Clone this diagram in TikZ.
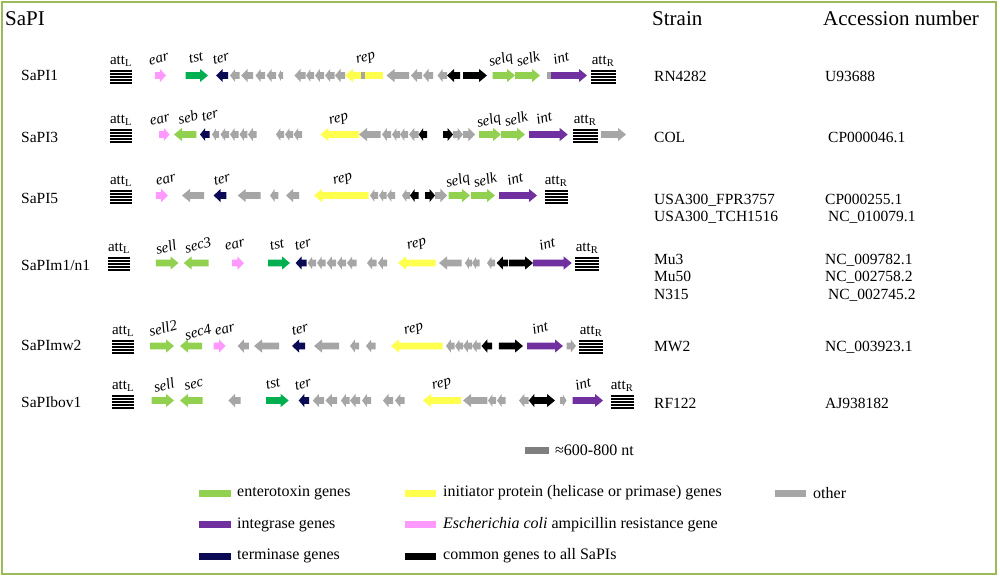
\documentclass[tikz,border=0pt]{standalone}
\usepackage{fontspec}
\setmainfont{Liberation Serif}
\definecolor{cgray}{HTML}{A6A6A6}
\definecolor{cdark}{HTML}{7F7F7F}
\definecolor{clg}{HTML}{92D050}
\definecolor{ctst}{HTML}{00B050}
\definecolor{cnavy}{HTML}{0A0A55}
\definecolor{cyel}{HTML}{FFFF4D}
\definecolor{cpink}{HTML}{FF99FF}
\definecolor{cpur}{HTML}{7030A0}
\definecolor{cframe}{HTML}{9BBB59}
\newcommand{\gR}[4]{%
  \pgfmathsetmacro{\ghl}{min(8,0.55*(#2-#1))}%
  \pgfmathsetmacro{\ghh}{min(6.6,3.5+0.35*(#2-#1))}%
  \pgfmathsetmacro{\ghx}{#2-\ghl}%
  \fill[#4] (#1,#3-3.4) -- (\ghx,#3-3.4) -- (\ghx,#3-\ghh) -- (#2,#3) -- (\ghx,#3+\ghh) -- (\ghx,#3+3.4) -- (#1,#3+3.4) -- cycle;}
\newcommand{\gL}[4]{%
  \pgfmathsetmacro{\ghl}{min(8,0.55*(#2-#1))}%
  \pgfmathsetmacro{\ghh}{min(6.6,3.5+0.35*(#2-#1))}%
  \pgfmathsetmacro{\ghx}{#1+\ghl}%
  \fill[#4] (#2,#3-3.4) -- (\ghx,#3-3.4) -- (\ghx,#3-\ghh) -- (#1,#3) -- (\ghx,#3+\ghh) -- (\ghx,#3+3.4) -- (#2,#3+3.4) -- cycle;}
\newcommand{\gB}[4]{\fill[#4] (#1,#3-3.4) rectangle (#2,#3+3.4);}
% bars: #3 is an integer pixel row (centre of the middle bar)
\newcommand{\attbars}[3]{%
  \foreach \ak in {-6,-3,0,3,6}{\fill[black] (#1,#3-1+\ak) rectangle (#2,#3+1+\ak);}}
\begin{document}
\begin{tikzpicture}[x=1pt,y=-1pt,
  hdr/.style={font=\fontsize{21}{24}\selectfont,anchor=base west,inner sep=0},
  lab/.style={font=\fontsize{15.5}{18}\selectfont,anchor=base west,inner sep=0},
  gn/.style={font=\fontsize{15}{17}\selectfont\itshape,rotate=15,inner sep=0},
  attl/.style={font=\fontsize{15}{18}\selectfont,anchor=base,inner sep=0},
  leg/.style={font=\fontsize{16}{19}\selectfont,anchor=west,inner sep=0}]
\useasboundingbox (0,0) rectangle (1000,576);
\draw[cframe,line width=2pt] (1.5,2) rectangle (995.5,574);
% headers
\node[hdr] (hsapi) at (5,25) {SaPI};
\node[hdr] (hstrain) at (652,25) {Strain};
\node[hdr] (hacc) at (823,25) {Accession number};
% left labels
\node[lab] (n1) at (21,80.5) {SaPI1};
\node[lab] (n2) at (21,142) {SaPI3};
\node[lab] (n3) at (21,203) {SaPI5};
\node[lab] (n4) at (21,270.5) {SaPIm1/n1};
\node[lab] (n5) at (21,350.5) {SaPImw2};
\node[lab] (n6) at (21,407.5) {SaPIbov1};
% strains
\node[lab] (s1) at (654,81.5) {RN4282};
\node[lab] (s2) at (654,142) {COL};
\node[lab] (s3a) at (654,204) {USA300\_FPR3757};
\node[lab] (s3b) at (654,221.5) {USA300\_TCH1516};
\node[lab] (s4a) at (654,264) {Mu3};
\node[lab] (s4b) at (654,281.5) {Mu50};
\node[lab] (s4c) at (654,299) {N315};
\node[lab] (s5) at (654,351) {MW2};
\node[lab] (s6) at (654,408) {RF122};
% accessions
\node[lab] (a1) at (825,81.5) {U93688};
\node[lab] (a2) at (828,142) {CP000046.1};
\node[lab] (a3a) at (825,204) {CP000255.1};
\node[lab] (a3b) at (828,221.5) {NC\_010079.1};
\node[lab] (a4a) at (825,264) {NC\_009782.1};
\node[lab] (a4b) at (825,281.5) {NC\_002758.2};
\node[lab] (a4c) at (828,299) {NC\_002745.2};
\node[lab] (a5) at (825,351) {NC\_003923.1};
\node[lab] (a6) at (825,408) {AJ938182};
% ---------- Row 1: SaPI1 ----------
\def\ry{75.5}
\attbars{110}{132}{77}
\node[attl] (r1al) at (121,\ry-11.5) {att\textsubscript{L}};
\gR{155}{166}{\ry}{cpink}
\gR{185.5}{208}{\ry}{ctst}
\gL{216}{228}{\ry}{cnavy}
\gL{230}{239.5}{\ry}{cgray}
\gL{241}{253}{\ry}{cgray}
\gL{255.5}{265}{\ry}{cgray}
\gL{266.5}{276}{\ry}{cgray}
\gL{278}{283}{\ry}{cgray}
\gL{294.5}{305.5}{\ry}{cgray}
\gL{306}{314}{\ry}{cgray}
\gL{315}{324}{\ry}{cgray}
\gL{325}{334.5}{\ry}{cgray}
\gL{335}{345}{\ry}{cgray}
\gL{345}{361}{\ry}{cyel}
\gB{361}{364.5}{\ry}{cgray}
\gB{364.5}{383}{\ry}{cyel}
\gL{386.5}{409}{\ry}{cgray}
\gL{411}{422}{\ry}{cgray}
\gL{423}{433}{\ry}{cgray}
\gL{437.5}{447}{\ry}{cgray}
\gL{447}{460}{\ry}{black}
\gR{463}{487}{\ry}{black}
\gR{492.5}{515}{\ry}{clg}
\gR{515}{540}{\ry}{clg}
\gB{547}{551}{\ry}{cgray}
\gR{551}{587}{\ry}{cpur}
\attbars{591}{615.5}{77}
\node[attl] (r1ar) at (603,\ry-11.5) {att\textsubscript{R}};
\node[gn] (r1g1) at (159,59.5) {ear};
\node[gn] (r1g2) at (196,58) {tst};
\node[gn] (r1g3) at (221,58) {ter};
\node[gn] (r1g4) at (366,59) {rep};
\node[gn] (r1g5) at (501,60) {selq};
\node[gn] (r1g6) at (528,59) {selk};
\node[gn] (r1g7) at (561,58) {int};
% ---------- Row 2: SaPI3 ----------
\def\ry{134.5}
\attbars{110}{132}{136}
\node[attl] (r2al) at (121,\ry-11.5) {att\textsubscript{L}};
\gR{159}{169.6}{\ry}{cpink}
\gL{174}{196.4}{\ry}{clg}
\gL{200}{209.5}{\ry}{cnavy}
\gL{212}{219}{\ry}{cgray}
\gL{220.5}{229}{\ry}{cgray}
\gL{230}{238.5}{\ry}{cgray}
\gL{239.5}{247.4}{\ry}{cgray}
\gL{248}{256.7}{\ry}{cgray}
\gL{276}{284}{\ry}{cgray}
\gL{285}{293}{\ry}{cgray}
\gL{293.5}{302}{\ry}{cgray}
\gL{320.4}{359}{\ry}{cyel}
\gL{359}{380.7}{\ry}{cgray}
\gL{382}{391}{\ry}{cgray}
\gL{392}{400}{\ry}{cgray}
\gL{400}{408}{\ry}{cgray}
\gL{409}{418.6}{\ry}{cgray}
\gL{418.6}{427}{\ry}{black}
\gR{443}{453}{\ry}{black}
\gR{453}{463}{\ry}{cgray}
\gR{463}{475}{\ry}{cgray}
\gR{479}{501}{\ry}{clg}
\gR{501}{525}{\ry}{clg}
\gR{529}{567.7}{\ry}{cpur}
\attbars{572.5}{597.6}{136}
\node[attl] (r2ar) at (585,\ry-11.5) {att\textsubscript{R}};
\gR{601}{626}{\ry}{cgray}
\node[gn] (r2g1) at (160,120) {ear};
\node[gn] (r2g2) at (188,117) {seb};
\node[gn] (r2g3) at (210,115.5) {ter};
\node[gn] (r2g4) at (339,120) {rep};
\node[gn] (r2g5) at (489,121) {selq};
\node[gn] (r2g6) at (516,119) {selk};
\node[gn] (r2g7) at (544,118) {int};
% ---------- Row 3: SaPI5 ----------
\def\ry{195.5}
\attbars{110}{132}{197}
\node[attl] (r3al) at (121,\ry-11.5) {att\textsubscript{L}};
\gR{155.8}{167.8}{\ry}{cpink}
\gL{182}{204}{\ry}{cgray}
\gL{213.6}{226.4}{\ry}{cnavy}
\gL{237.7}{260.5}{\ry}{cgray}
\gL{270}{278.4}{\ry}{cgray}
\gL{286}{299}{\ry}{cgray}
\gL{314}{368.6}{\ry}{cyel}
\gL{370}{378}{\ry}{cgray}
\gL{379}{386.5}{\ry}{cgray}
\gL{387}{395}{\ry}{cgray}
\gL{402}{410}{\ry}{cgray}
\gL{410}{418.5}{\ry}{black}
\gR{425}{435}{\ry}{black}
\gR{435}{447}{\ry}{cgray}
\gR{448.5}{470}{\ry}{clg}
\gR{471}{495}{\ry}{clg}
\gR{499}{537}{\ry}{cpur}
\attbars{545}{567.6}{197}
\node[attl] (r3ar) at (556,\ry-11.5) {att\textsubscript{R}};
\node[gn] (r3g1) at (166,180) {ear};
\node[gn] (r3g2) at (222,179) {ter};
\node[gn] (r3g3) at (343,180) {rep};
\node[gn] (r3g4) at (458,181) {selq};
\node[gn] (r3g5) at (485,180) {selk};
\node[gn] (r3g6) at (515,179) {int};
% ---------- Row 4: SaPIm1/n1 ----------
\def\ry{263}
\attbars{108}{130.3}{264}
\node[attl] (r4al) at (119,\ry-11.5) {att\textsubscript{L}};
\gR{155.8}{178.5}{\ry}{clg}
\gL{183.7}{208.5}{\ry}{clg}
\gR{232}{244}{\ry}{cpink}
\gR{268}{290}{\ry}{ctst}
\gL{295.6}{306.6}{\ry}{cnavy}
\gL{307.6}{316}{\ry}{cgray}
\gL{317}{325.5}{\ry}{cgray}
\gL{326.6}{336}{\ry}{cgray}
\gL{337}{346}{\ry}{cgray}
\gL{347}{356.5}{\ry}{cgray}
\gL{367}{376.5}{\ry}{cgray}
\gL{378}{387}{\ry}{cgray}
\gL{398}{435.7}{\ry}{cyel}
\gL{439}{461.6}{\ry}{cgray}
\gL{465}{472}{\ry}{cgray}
\gL{472}{479.5}{\ry}{cgray}
\gL{487}{495}{\ry}{cgray}
\gL{496.7}{508}{\ry}{black}
\gR{509}{533}{\ry}{black}
\gR{533}{571.7}{\ry}{cpur}
\attbars{575}{599}{264}
\node[attl] (r4ar) at (587,\ry-11.5) {att\textsubscript{R}};
\node[gn] (r4g1) at (166,247) {sell};
\node[gn] (r4g2) at (198,245) {sec3};
\node[gn] (r4g3) at (235,245) {ear};
\node[gn] (r4g4) at (277,245) {tst};
\node[gn] (r4g5) at (303,244) {ter};
\node[gn] (r4g6) at (417,245) {rep};
\node[gn] (r4g7) at (547,244) {int};
% ---------- Row 5: SaPImw2 ----------
\def\ry{346}
\attbars{112}{134.4}{347}
\node[attl] (r5al) at (123,\ry-11.5) {att\textsubscript{L}};
\gR{150}{174}{\ry}{clg}
\gL{180}{202}{\ry}{clg}
\gR{213.6}{225.7}{\ry}{cpink}
\gL{237.7}{248.8}{\ry}{cgray}
\gL{254}{279}{\ry}{cgray}
\gL{292}{305}{\ry}{cnavy}
\gL{314}{339}{\ry}{cgray}
\gL{350}{359}{\ry}{cgray}
\gL{366}{375.5}{\ry}{cgray}
\gL{391}{442.6}{\ry}{cyel}
\gL{446}{454.7}{\ry}{cgray}
\gL{455}{463}{\ry}{cgray}
\gL{463}{472}{\ry}{cgray}
\gL{472}{480.5}{\ry}{cgray}
\gL{481.5}{492}{\ry}{black}
\gR{498.8}{523}{\ry}{black}
\gR{527}{563}{\ry}{cpur}
\gR{566.6}{576}{\ry}{cgray}
\attbars{579}{603}{347}
\node[attl] (r5ar) at (591,\ry-11.5) {att\textsubscript{R}};
\node[gn] (r5g1) at (163,328) {sell2};
\node[gn] (r5g2) at (198,332) {sec4};
\node[gn] (r5g3) at (225,330) {ear};
\node[gn] (r5g4) at (300,329) {ter};
\node[gn] (r5g5) at (414,330) {rep};
\node[gn] (r5g6) at (540,328) {int};
% ---------- Row 6: SaPIbov1 ----------
\def\ry{400.5}
\attbars{112}{134}{402}
\node[attl] (r6al) at (123,\ry-11.5) {att\textsubscript{L}};
\gR{151.6}{174}{\ry}{clg}
\gL{180}{202.6}{\ry}{clg}
\gL{228.4}{240.5}{\ry}{cgray}
\gR{266}{288.7}{\ry}{ctst}
\gL{298.7}{309}{\ry}{cnavy}
\gL{312.8}{324}{\ry}{cgray}
\gL{325.5}{337}{\ry}{cgray}
\gL{341}{349.7}{\ry}{cgray}
\gL{350}{360}{\ry}{cgray}
\gL{362}{371}{\ry}{cgray}
\gL{383}{393}{\ry}{cgray}
\gL{395}{404.7}{\ry}{cgray}
\gL{423}{461}{\ry}{cyel}
\gL{463}{487.4}{\ry}{cgray}
\gL{488}{496}{\ry}{cgray}
\gL{497}{505.6}{\ry}{cgray}
\gL{519}{528.7}{\ry}{cgray}
\gL{528.7}{539}{\ry}{black}
\gR{539}{555}{\ry}{black}
\gR{560}{566.6}{\ry}{cgray}
\gR{572.5}{603}{\ry}{cpur}
\attbars{611}{633.7}{402}
\node[attl] (r6ar) at (622,\ry-11.5) {att\textsubscript{R}};
\node[gn] (r6g1) at (164,385) {sell};
\node[gn] (r6g2) at (194,385) {sec};
\node[gn] (r6g3) at (273,384) {tst};
\node[gn] (r6g4) at (303,384) {ter};
\node[gn] (r6g5) at (442,385) {rep};
\node[gn] (r6g6) at (583,384) {int};
% ---------- scale ----------
\fill[cdark] (525,446.5) rectangle (549,453.5);
\node[leg] (scl) at (555,450) {≈600-800 nt};
% ---------- legend ----------
\fill[clg] (199,489.5) rectangle (231,496.5);
\node[leg] (l1) at (237,493) {enterotoxin genes};
\fill[cyel] (405,489.5) rectangle (436,496.5);
\node[leg] (l2) at (443,493) {initiator protein (helicase or primase) genes};
\fill[cgray] (775,489.5) rectangle (806,496.5);
\node[leg] (l3) at (813,493) {other};
\fill[cpur] (199,521) rectangle (231,528);
\node[leg] (l4) at (237,524.5) {integrase genes};
\fill[cpink] (405,521) rectangle (436,528);
\node[leg] (l5) at (443,524.5) {\textit{Escherichia coli} ampicillin resistance gene};
\fill[cnavy] (199,552.5) rectangle (231,559.5);
\node[leg] (l6) at (237,556) {terminase genes};
\fill[black] (405,552.5) rectangle (436,559.5);
\node[leg] (l7) at (443,556) {common genes to all SaPIs};
\end{tikzpicture}
\end{document}
